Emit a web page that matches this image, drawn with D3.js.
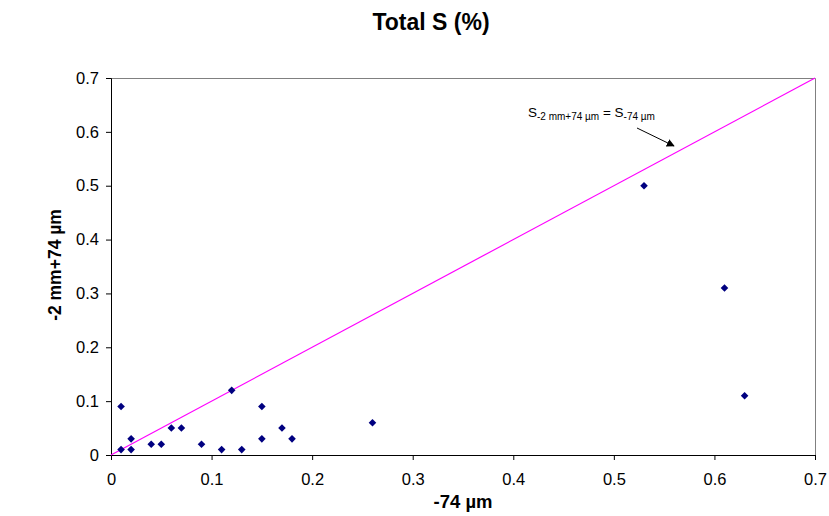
<!DOCTYPE html>
<html>
<head>
<meta charset="utf-8">
<script src="https://d3js.org/d3.v7.min.js"></script>
<style>
  body { margin: 0; background: #fff; }
  text { font-family: "Liberation Sans", Arial, sans-serif; }
</style>
</head>
<body>
<svg id="chart"></svg>
<script>
// data
var xVals = [0.01, 0.01, 0.02, 0.02, 0.04, 0.05, 0.06, 0.07, 0.09, 0.11, 0.12, 0.13, 0.15, 0.15, 0.17, 0.18, 0.26, 0.53, 0.61, 0.63];
var yVals = [0.09, 0.01, 0.01, 0.03, 0.02, 0.02, 0.05, 0.05, 0.02, 0.01, 0.12, 0.01, 0.09, 0.03, 0.05, 0.03, 0.06, 0.50, 0.31, 0.11];
var lineVals = [0, 0.7];
var tickVals = [0, 0.1, 0.2, 0.3, 0.4, 0.5, 0.6, 0.7];

var W = 829, H = 516;
var margin = {top: 78, right: 14, bottom: 61, left: 111},
    width = W - margin.left - margin.right,
    height = H - margin.top - margin.bottom;

var svg = d3.select("#chart").attr("width", W).attr("height", H);

var x = d3.scaleLinear().domain([0, 0.7]).range([0, width]);
var y = d3.scaleLinear().domain([0, 0.7]).range([height, 0]);

var g = svg.append("g")
    .attr("transform", "translate(" + margin.left + "," + margin.top + ")");

// top / right border
g.append("path")
    .attr("d", "M0,0.5H" + (width + 0.5) + "V" + height)
    .attr("fill", "none")
    .attr("stroke", "#808080")
    .attr("stroke-width", 1);

var fmt = function(d) { return d === 0 ? "0" : d3.format(".1f")(d); };

var xAxis = g.append("g")
    .attr("transform", "translate(0," + height + ")")
    .call(d3.axisBottom(x).tickValues(tickVals).tickFormat(fmt).tickSize(5).tickPadding(13));
var yAxis = g.append("g")
    .call(d3.axisLeft(y).tickValues(tickVals).tickFormat(fmt).tickSize(5).tickPadding(7));

[xAxis, yAxis].forEach(function(a) {
  a.attr("font-size", null);
  a.select(".domain").attr("stroke", "#000");
  a.selectAll("line").attr("stroke", "#000");
  a.selectAll("text")
    .attr("fill", "#000")
    .attr("font-size", "16.5px")
    .attr("font-family", "Liberation Sans, Arial, sans-serif");
});

// 1:1 line
g.append("line")
    .attr("x1", x(lineVals[0])).attr("y1", y(lineVals[0]))
    .attr("x2", x(lineVals[1])).attr("y2", y(lineVals[1]))
    .attr("stroke", "#ff00ff")
    .attr("stroke-width", 1.2);

// diamond markers
var diamond = "M0,-3.8L3.8,0L0,3.8L-3.8,0Z";
g.selectAll(".pt")
    .data(xVals)
  .enter().append("path")
    .attr("class", "pt")
    .attr("d", diamond)
    .attr("transform", function(d, i) { return "translate(" + x(d) + "," + y(yVals[i]) + ")"; })
    .attr("fill", "#000080");

// annotation
var ann = svg.append("text")
    .attr("x", 528).attr("y", 117)
    .attr("fill", "#000")
    .style("font-size", "13.5px");
ann.append("tspan").text("S");
ann.append("tspan").attr("dy", 3).style("font-size", "10px").text("-2 mm+74 µm");
ann.append("tspan").attr("dy", -3).text(" = S");
ann.append("tspan").attr("dy", 3).style("font-size", "10px").text("-74 µm");

svg.append("defs").append("marker")
    .attr("id", "arrow")
    .attr("viewBox", "0 0 10 10")
    .attr("refX", 9).attr("refY", 5)
    .attr("markerWidth", 8).attr("markerHeight", 8)
    .attr("markerUnits", "userSpaceOnUse")
    .attr("orient", "auto")
  .append("path")
    .attr("d", "M0,0L10,5L0,10Z")
    .attr("fill", "#000");

svg.append("line")
    .attr("x1", 637).attr("y1", 128)
    .attr("x2", 674).attr("y2", 146)
    .attr("stroke", "#000")
    .attr("stroke-width", 1)
    .attr("marker-end", "url(#arrow)");

// titles
svg.append("text")
    .attr("x", 431).attr("y", 30)
    .attr("text-anchor", "middle")
    .style("font-size", "23px")
    .style("font-weight", "bold")
    .text("Total S (%)");

svg.append("text")
    .attr("x", 463).attr("y", 508)
    .attr("text-anchor", "middle")
    .style("font-size", "18.5px")
    .style("font-weight", "bold")
    .text("-74 µm");

svg.append("text")
    .attr("transform", "translate(61," + 265 + ") rotate(-90)")
    .attr("text-anchor", "middle")
    .style("font-size", "17.5px")
    .style("font-weight", "bold")
    .text("-2 mm+74 µm");
</script>
</body>
</html>
